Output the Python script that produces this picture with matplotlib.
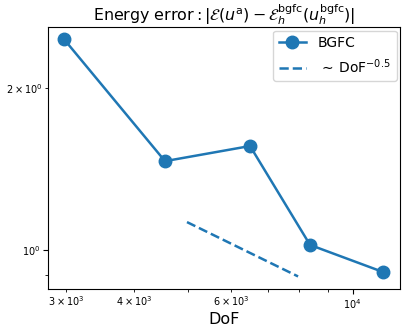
import numpy as np
import matplotlib
matplotlib.use("Agg")
import matplotlib.pyplot as plt

# degrees of freedom and energy errors
dof = [2976, 4548, 6500, 8363, 11367]
err = [2.466, 1.463, 1.561, 1.022, 0.910]

# reference slope DoF^-0.5
ref_dof = [4988, 7953]
ref_err = [1.127, 0.893]

fig = plt.figure(figsize=(4.10, 3.27), dpi=100)
ax = fig.add_axes([0.117, 0.116, 0.859, 0.801])

ax.loglog(dof, err, marker='o', markersize=9, linewidth=1.8, color='#1f77b4', label='BGFC')
ax.loglog(ref_dof, ref_err, linestyle='--', linewidth=1.8, color='#1f77b4',
          label=r'$\,\sim\,\mathrm{DoF}^{-0.5}$')

ax.set_xlim(2782, 12210)
ax.set_ylim(0.846, 2.597)
ax.tick_params(which='both', labelsize=7, pad=2)
ax.set_xlabel('DoF', fontsize=11.5, labelpad=1)
ax.set_title(r'Energy error$: |\mathcal{E}(u^{\rm a}) - \mathcal{E}_h^{\rm bgfc}(u_h^{\rm bgfc})|$',
             fontsize=11.4, pad=5)
ax.legend(fontsize=10, loc='upper right', borderaxespad=0.25)

fig.savefig('out.png', dpi=100)
